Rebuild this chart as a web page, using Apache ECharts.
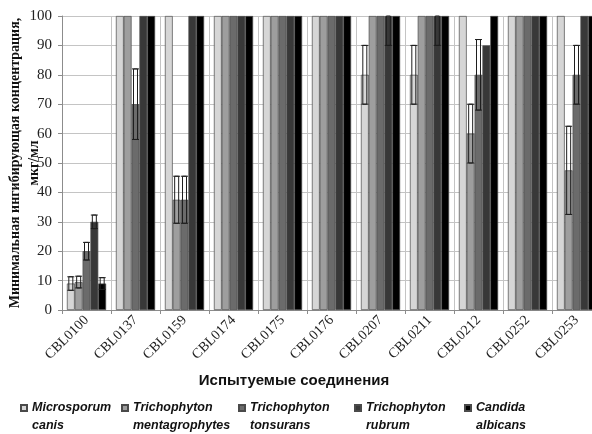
<!DOCTYPE html>
<html>
<head>
<meta charset="utf-8">
<script src="https://cdn.jsdelivr.net/npm/echarts@6/dist/echarts.min.js"></script>
<style>
  html, body { margin: 0; padding: 0; background: #fff; }
  #chart { width: 592px; height: 434px; }
</style>
</head>
<body>
<div id="chart"></div>
<script>
// Tested compounds
const categories = ['CBL0100', 'CBL0137', 'CBL0159', 'CBL0174', 'CBL0175', 'CBL0176',
                    'CBL0207', 'CBL0211', 'CBL0212', 'CBL0252', 'CBL0253'];

// Organisms (series names)
const seriesNames = ['Microsporum canis', 'Trichophyton mentagrophytes',
                     'Trichophyton tonsurans', 'Trichophyton rubrum', 'Candida albicans'];

// MIC values, µg/ml
const mcValues = [9, 100, 100, 100, 100, 100, 80, 80, 100, 100, 100];
const tmValues = [9.5, 100, 37.5, 100, 100, 100, 100, 100, 60, 100, 47.5];
const ttValues = [20, 70, 37.5, 100, 100, 100, 100, 100, 80, 100, 80];
const trValues = [30, 100, 100, 100, 100, 100, 100, 100, 90, 100, 100];
const caValues = [9, 100, 100, 100, 100, 100, 100, 100, 100, 100, 100];

// Error (± deviation); null = no error bar
const mcErrors = [2.3, null, null, null, null, null, 10, 10, null, null, null];
const tmErrors = [2, null, 8, null, null, null, null, null, 10, null, 15];
const ttErrors = [3, 12, 8, null, null, null, null, null, 12, null, 10];
const trErrors = [2.3, null, null, null, null, null, 10, 10, null, null, null];
const caErrors = [2, null, null, null, null, null, null, null, null, null, null];

const yTicks = [0, 10, 20, 30, 40, 50, 60, 70, 80, 90, 100];

const allValues = [mcValues, tmValues, ttValues, trValues, caValues];
const allErrors = [mcErrors, tmErrors, ttErrors, trErrors, caErrors];
const colors = ['#d6d6d6', '#9e9e9e', '#6b6b6b', '#383838', '#000000'];

const Y_MAX = yTicks[yTicks.length - 1];
const GAP_RATIO = 0.2;   // barCategoryGap
const N = seriesNames.length;

function errorRenderer(seriesIdx) {
  return function (params, api) {
    const cat = api.value(0);
    const v = api.value(1);
    const e = api.value(2);
    const bandW = api.size([1, 0])[0];
    const barW = bandW * (1 - GAP_RATIO) / N;
    const cx = api.coord([cat, v])[0] + (seriesIdx - (N - 1) / 2) * barW;
    const hiVal = Math.min(v + e, Y_MAX);
    const yHi = api.coord([cat, hiVal])[1];
    const yLo = api.coord([cat, v - e])[1];
    const st = { stroke: '#1e1e1e', lineWidth: 1, fill: null };
    const children = [
      { type: 'rect', shape: { x: cx - 2, y: yHi, width: 4, height: yLo - yHi }, style: st },
      { type: 'line', shape: { x1: cx - 3.5, y1: yLo, x2: cx + 3.5, y2: yLo }, style: st }
    ];
    if (v + e <= Y_MAX) {
      children.push({ type: 'line', shape: { x1: cx - 3.5, y1: yHi, x2: cx + 3.5, y2: yHi }, style: st });
    }
    return { type: 'group', children: children };
  };
}

const series = [];
seriesNames.forEach(function (name, i) {
  series.push({
    name: name,
    type: 'bar',
    data: allValues[i],
    barGap: '0%',
    barCategoryGap: (GAP_RATIO * 100) + '%',
    itemStyle: { color: colors[i], borderColor: '#4a4a4a', borderWidth: 0.7 },
    animation: false
  });
});
seriesNames.forEach(function (name, i) {
  const data = [];
  allErrors[i].forEach(function (e, k) {
    if (e !== null) data.push([k, allValues[i][k], e]);
  });
  series.push({
    type: 'custom',
    name: name + ' err',
    renderItem: errorRenderer(i),
    data: data,
    encode: { x: 0, y: 1 },
    z: 5,
    silent: true,
    animation: false
  });
});

// Legend items, each in its own block
const legendLefts = [20, 121, 238, 354, 464];
const legends = seriesNames.map(function (name, i) {
  return {
    data: [name],
    left: legendLefts[i],
    top: 381,
    orient: 'horizontal',
    icon: 'rect',
    itemWidth: 6,
    itemHeight: 6,
    itemGap: 0,
    padding: 0,
    selectedMode: false,
    textStyle: {
      fontFamily: 'Liberation Sans',
      fontWeight: 'bold',
      fontStyle: 'italic',
      fontSize: 12.5,
      color: '#111',
      lineHeight: 18
    },
    formatter: function (n) {
      const sp = n.indexOf(' ');
      return '\n' + n.slice(0, sp) + '\n' + n.slice(sp + 1);
    }
  };
});

const chart = echarts.init(document.getElementById('chart'), null, { renderer: 'canvas' });
chart.setOption({
  backgroundColor: '#fff',
  animation: false,
  grid: { left: 62, right: -9, top: 16, bottom: 124, containLabel: false, outerBoundsMode: 'none' },
  legend: legends,
  xAxis: {
    type: 'category',
    data: categories,
    boundaryGap: true,
    axisLine: { lineStyle: { color: '#8c8c8c' } },
    axisTick: { show: true, length: 4, lineStyle: { color: '#8c8c8c' } },
    splitLine: { show: true, lineStyle: { color: '#c4c4c4', width: 1 } },
    axisLabel: {
      rotate: 45,
      interval: 0,
      margin: 8,
      fontFamily: 'Liberation Serif',
      fontSize: 14,
      color: '#222'
    }
  },
  yAxis: {
    type: 'value',
    min: 0,
    max: Y_MAX,
    interval: 10,
    axisLine: { show: true, lineStyle: { color: '#8c8c8c' } },
    axisTick: { show: true, length: 4, lineStyle: { color: '#8c8c8c' } },
    splitLine: { show: true, lineStyle: { color: '#c4c4c4', width: 1 } },
    axisLabel: {
      margin: 10,
      fontFamily: 'Liberation Serif',
      fontSize: 15,
      color: '#222',
      formatter: function (v) { return yTicks.indexOf(v) >= 0 ? String(v) : ''; }
    },
    name: 'Минимальная ингибирующая концентрация,\nмкг/мл',
    nameLocation: 'middle',
    nameRotate: 90,
    nameGap: 18,
    nameMoveOverlap: false,
    nameTextStyle: {
      fontFamily: 'Liberation Serif',
      fontWeight: 'bold',
      fontSize: 14,
      color: '#111',
      lineHeight: 19
    }
  },
  graphic: [{
    type: 'text',
    x: 294,
    y: 381,
    style: {
      text: 'Испытуемые соединения',
      font: 'bold 15px "Liberation Sans"',
      fill: '#111',
      textAlign: 'center',
      textVerticalAlign: 'middle',
      align: 'center',
      verticalAlign: 'middle'
    }
  }],
  series: series
});
</script>
</body>
</html>
